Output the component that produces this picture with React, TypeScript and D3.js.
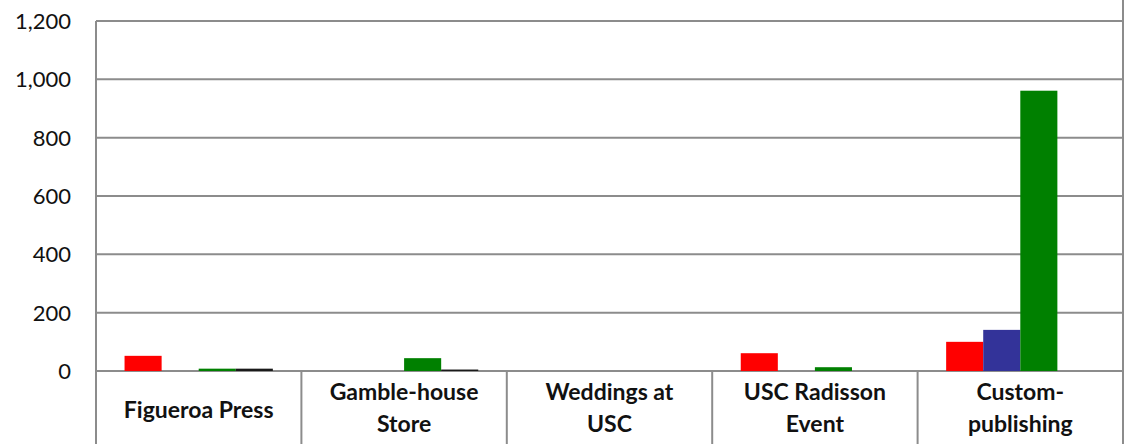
import { useEffect, useRef } from "react"
import * as d3 from "d3"

const categories = [["Figueroa Press"], ["Gamble-house", "Store"], ["Weddings at", "USC"], ["USC Radisson", "Event"], ["Custom-", "publishing"]]
const seriesNames = ["s1", "s2", "s3", "s4"]
const seriesColors = ["#ff0000", "#333399", "#008000", "#1a1a1a"]
const s1 = [52, 0, 0, 61, 100]
const s2 = [0, 0, 0, 0, 141]
const s3 = [8, 44, 0, 13, 961]
const s4 = [8, 5, 0, 0, 0]
const yTicks = [0, 200, 400, 600, 800, 1000, 1200]

export default function App() {
    const svgRef = useRef<SVGSVGElement | null>(null)

    useEffect(() => {
        if (!svgRef.current) return
        const width = 1125
        const height = 444
        const margin = { top: 21, left: 96, right: 2, bottom: 73 }
        const innerW = width - margin.left - margin.right
        const innerH = height - margin.top - margin.bottom

        const svg = d3.select(svgRef.current)
        svg.selectAll("*").remove()
        const g = svg.append("g").attr("transform", `translate(${margin.left},${margin.top})`)

        const x = d3.scaleBand<number>().domain(d3.range(categories.length)).range([0, innerW]).paddingInner(0).paddingOuter(0)
        const inner = d3.scaleBand<string>().domain(seriesNames).range([0, x.bandwidth()]).paddingInner(0).paddingOuter(0.77)
        const y = d3.scaleLinear().domain([0, 1200]).range([innerH, 0])

        const grid = "#8c8c8c"

        // gridlines
        g.selectAll("line.grid")
            .data(yTicks)
            .enter()
            .append("line")
            .attr("x1", 0)
            .attr("x2", innerW)
            .attr("y1", (d) => y(d))
            .attr("y2", (d) => y(d))
            .attr("stroke", grid)
            .attr("stroke-width", 2)

        // tick labels
        g.selectAll("text.tick")
            .data(yTicks)
            .enter()
            .append("text")
            .attr("x", -25)
            .attr("y", (d) => y(d))
            .attr("dy", "0.36em")
            .attr("text-anchor", "end")
            .attr("font-family", "Lato, 'Open Sans', sans-serif")
            .attr("font-size", 22)
            .attr("fill", "#111")
            .text((d) => d3.format(",")(d))

        // bars
        const all = [s1, s2, s3, s4]
        all.forEach((vals, si) => {
            g.selectAll(`rect.s${si}`)
                .data(vals)
                .enter()
                .append("rect")
                .attr("x", (_, i) => x(i)! + inner(seriesNames[si])!)
                .attr("y", (d) => y(d))
                .attr("width", inner.bandwidth())
                .attr("height", (d) => innerH - y(d))
                .attr("fill", seriesColors[si])
        })

        // category table lines
        g.selectAll("line.sep")
            .data(d3.range(categories.length + 1))
            .enter()
            .append("line")
            .attr("x1", (i) => (i === categories.length ? innerW : x(i)!))
            .attr("x2", (i) => (i === categories.length ? innerW : x(i)!))
            .attr("y1", (i) => (i === 0 ? 0 : i === categories.length ? -margin.top : innerH))
            .attr("y2", innerH + margin.bottom)
            .attr("stroke", grid)
            .attr("stroke-width", 2)

        // category labels
        categories.forEach((lines, i) => {
            const cx = x(i)! + x.bandwidth() / 2
            const t = g.append("text")
                .attr("text-anchor", "middle")
                .attr("font-family", "Lato, 'Open Sans', sans-serif")
                .attr("font-weight", "bold")
                .attr("font-size", 23)
                .attr("fill", "#111")
            const y0 = lines.length === 1 ? innerH + 39 : innerH + 21
            lines.forEach((ln, k) => {
                t.append("tspan").attr("x", cx).attr("y", y0 + k * 32).attr("dy", "0.36em").text(ln)
            })
        })
    }, [])

    return (
        <svg
            ref={svgRef}
            width={1125}
            height={444}
            style={{ position: "absolute", left: 0, top: 0, background: "#ffffff" }}
        />
    )
}
